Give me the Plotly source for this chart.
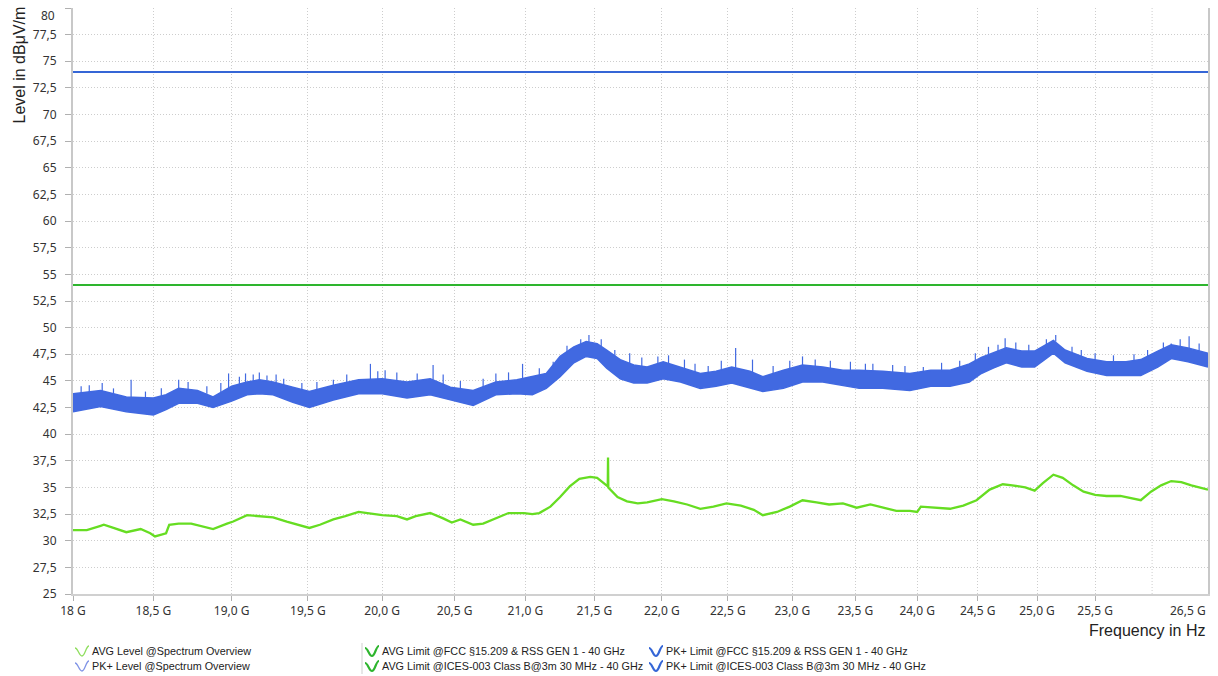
import math
import plotly.graph_objects as go

# ---------------- data ----------------
avg_freq = [18.00, 18.085, 18.17, 18.19, 18.25, 18.33, 18.42, 18.48, 18.51, 18.58, 18.60, 18.66,
            18.74, 18.80, 18.88, 18.97, 19.01, 19.10, 19.18, 19.27, 19.36, 19.45, 19.51, 19.58,
            19.67, 19.75, 19.84, 19.90, 20.00, 20.10, 20.17, 20.23, 20.33, 20.42, 20.48, 20.54,
            20.63, 20.70, 20.79, 20.88, 20.99, 21.05, 21.10, 21.18, 21.25, 21.32, 21.39, 21.47,
            21.52, 21.59, 21.598, 21.600, 21.602, 21.67, 21.74, 21.82, 21.89, 22.00, 22.09, 22.19,
            22.29, 22.39, 22.49, 22.60, 22.70, 22.77, 22.88, 22.98, 23.08, 23.19, 23.29, 23.40,
            23.51, 23.62, 23.72, 23.83, 23.94, 24.00, 24.03, 24.16, 24.27, 24.38, 24.49, 24.60,
            24.71, 24.79, 24.90, 24.98, 25.05, 25.14, 25.22, 25.31, 25.40, 25.50, 25.60, 25.72,
            25.82, 25.90, 25.99, 26.08, 26.17, 26.26, 26.35, 26.50]
avg_level = [31.0, 31.0, 31.4, 31.5, 31.2, 30.8, 31.1, 30.7, 30.4, 30.7, 31.5, 31.6,
             31.6, 31.4, 31.1, 31.6, 31.8, 32.4, 32.3, 32.2, 31.8, 31.4, 31.2, 31.5,
             32.0, 32.3, 32.7, 32.6, 32.4, 32.3, 32.0, 32.3, 32.6, 32.1, 31.7, 32.0,
             31.5, 31.6, 32.1, 32.6, 32.6, 32.5, 32.6, 33.2, 34.1, 35.1, 35.8, 36.0,
             35.9, 35.1, 35.1, 37.8, 35.0, 34.1, 33.7, 33.5, 33.6, 33.9, 33.7, 33.4,
             33.0, 33.2, 33.5, 33.3, 32.9, 32.4, 32.7, 33.2, 33.8, 33.6, 33.4, 33.5,
             33.1, 33.4, 33.1, 32.8, 32.8, 32.7, 33.2, 33.1, 33.0, 33.3, 33.8, 34.8,
             35.3, 35.2, 35.0, 34.7, 35.4, 36.2, 35.9, 35.2, 34.6, 34.3, 34.2, 34.2,
             34.0, 33.8, 34.6, 35.2, 35.6, 35.5, 35.2, 34.8]

pk_freq = [18.00, 18.17, 18.33, 18.50, 18.58, 18.66, 18.78, 18.88, 19.00, 19.10, 19.18, 19.27,
           19.40, 19.51, 19.67, 19.84, 20.00, 20.17, 20.33, 20.47, 20.63, 20.79, 20.94, 21.05,
           21.15, 21.25, 21.35, 21.44, 21.52, 21.59, 21.69, 21.79, 21.89, 22.01, 22.14, 22.29,
           22.41, 22.53, 22.67, 22.77, 22.93, 23.08, 23.24, 23.40, 23.53, 23.72, 23.94, 24.11,
           24.27, 24.43, 24.53, 24.63, 24.74, 24.87, 24.98, 25.14, 25.24, 25.43, 25.60, 25.77,
           25.90, 26.05, 26.17, 26.32, 26.50]
pk_low = [42.1, 42.6, 42.1, 41.8, 42.3, 42.9, 42.9, 42.5, 43.1, 43.7, 43.8, 43.7,
          43.0, 42.5, 43.2, 43.8, 43.8, 43.4, 43.7, 43.2, 42.7, 43.7, 43.8, 43.7,
          44.3, 45.4, 46.7, 47.3, 47.1, 46.2, 45.2, 44.8, 44.8, 45.2, 44.9, 44.3,
          44.5, 44.8, 44.3, 44.0, 44.3, 44.9, 44.9, 44.6, 44.3, 44.3, 44.1, 44.5,
          44.5, 44.9, 45.7, 46.2, 46.7, 46.3, 46.3, 47.6, 46.7, 45.9, 45.5, 45.5,
          45.5, 46.3, 47.1, 46.8, 46.3]
pk_high = [43.8, 44.1, 43.5, 43.4, 43.7, 44.3, 44.1, 43.5, 44.5, 44.9, 45.1, 44.9,
           44.4, 44.0, 44.6, 45.1, 45.2, 44.9, 45.2, 44.4, 44.1, 44.9, 45.1, 45.4,
           45.7, 47.3, 48.2, 48.7, 48.5, 47.9, 47.0, 46.5, 46.3, 46.8, 46.3, 45.7,
           45.9, 46.3, 45.9, 45.4, 46.0, 46.5, 46.3, 46.0, 46.0, 45.9, 45.7, 46.0,
           46.0, 46.6, 47.2, 47.6, 48.1, 47.8, 47.8, 48.8, 47.9, 47.1, 46.8, 46.8,
           47.0, 47.8, 48.4, 48.1, 47.6]

spike_freq = [18.05, 18.10, 18.18, 18.25, 18.36, 18.45, 18.55, 18.66, 18.72, 18.84, 18.93, 18.98,
              19.05, 19.09, 19.14, 19.18, 19.23, 19.29, 19.34, 19.46, 19.56, 19.67, 19.76, 19.92,
              19.97, 20.02, 20.10, 20.24, 20.35, 20.42, 20.54, 20.70, 20.79, 20.88, 20.98, 21.10,
              21.20, 21.30, 21.40, 21.46, 21.55, 21.65, 21.76, 21.85, 21.97, 22.05, 22.17, 22.25,
              22.35, 22.45, 22.56, 22.69, 22.85, 22.98, 23.08, 23.18, 23.30, 23.46, 23.58, 23.64,
              23.80, 23.90, 24.05, 24.20, 24.35, 24.48, 24.59, 24.67, 24.73, 24.82, 24.93, 25.08,
              25.16, 25.30, 25.38, 25.50, 25.66, 25.84, 25.96, 26.10, 26.17, 26.25, 26.33, 26.42]
spike_base = [43.6, 43.8, 44.0, 43.6, 43.4, 43.3, 43.4, 44.2, 44.1, 43.8, 43.9, 44.3,
              44.6, 44.8, 44.9, 45.0, 44.9, 44.8, 44.5, 44.0, 44.1, 44.5, 44.8, 45.0,
              45.1, 45.1, 44.9, 44.9, 45.1, 44.6, 44.3, 44.3, 44.8, 45.0, 45.1, 45.5,
              46.2, 47.5, 48.3, 48.6, 48.2, 47.2, 46.5, 46.3, 46.6, 46.6, 46.2, 45.8,
              45.7, 46.0, 46.2, 45.8, 45.6, 46.1, 46.4, 46.3, 46.1, 45.9, 45.9, 45.9,
              45.8, 45.7, 45.8, 45.9, 46.2, 46.8, 47.3, 47.6, 48.0, 47.9, 47.7, 48.3,
              48.7, 47.5, 47.2, 46.9, 46.7, 46.8, 47.1, 47.9, 48.3, 48.2, 48.0, 47.8]
spike_top = [44.5, 44.6, 44.8, 44.3, 45.1, 44.0, 44.3, 45.1, 44.9, 44.5, 44.8, 45.7,
             45.4, 45.7, 45.6, 45.8, 45.5, 45.6, 45.2, 44.8, 44.9, 45.1, 45.6, 46.6,
             45.9, 46.0, 45.8, 45.7, 46.5, 45.6, 45.0, 45.2, 45.7, 45.8, 46.6, 46.2,
             46.8, 48.3, 48.9, 49.3, 48.9, 47.9, 47.6, 47.2, 47.3, 47.4, 47.0, 46.6,
             46.4, 46.9, 48.1, 47.0, 46.4, 46.9, 47.3, 47.0, 46.9, 46.8, 46.6, 46.6,
             46.5, 46.4, 46.3, 46.7, 46.9, 47.6, 48.2, 48.4, 49.0, 48.6, 48.4, 48.9,
             49.3, 48.2, 47.9, 47.6, 47.4, 47.5, 47.9, 48.6, 48.5, 48.9, 49.2, 48.5]

f_start, f_stop = 18.0, 26.5
pk_limit = 74.0
avg_limit = 54.0

x_tickvals = [18.0, 18.5, 19.0, 19.5, 20.0, 20.5, 21.0, 21.5, 22.0, 22.5, 23.0, 23.5, 24.0, 24.5, 25.0, 25.5]
x_ticktext = ["18 G", "18,5 G", "19,0 G", "19,5 G", "20,0 G", "20,5 G", "21,0 G", "21,5 G", "22,0 G",
              "22,5 G", "23,0 G", "23,5 G", "24,0 G", "24,5 G", "25,0 G", "25,5 G"]
x_extra_grid = 26.0
x_last_label = "26,5 G"
y_tickvals = [25, 27.5, 30, 32.5, 35, 37.5, 40, 42.5, 45, 47.5, 50, 52.5, 55, 57.5, 60, 62.5, 65,
              67.5, 70, 72.5, 75, 77.5, 80]
y_ticktext = ["25", "27,5", "30", "32,5", "35", "37,5", "40", "42,5", "45", "47,5", "50", "52,5", "55",
              "57,5", "60", "62,5", "65", "67,5", "70", "72,5", "75", "77,5", ""]
y_top_label = "80"

legend_items = [
    ("AVG Level @Spectrum Overview", "#8fde5e", 1.3),
    ("PK+ Level @Spectrum Overview", "#7f93e6", 1.3),
    ("AVG Limit @FCC §15.209 & RSS GEN 1 - 40 GHz", "#2eb52e", 2.2),
    ("AVG Limit @ICES-003 Class B@3m 30 MHz - 40 GHz", "#2eb52e", 2.2),
    ("PK+ Limit @FCC §15.209 & RSS GEN 1 - 40 GHz", "#3566d6", 2.2),
    ("PK+ Limit @ICES-003 Class B@3m 30 MHz - 40 GHz", "#3566d6", 2.2),
]

# ---------------- figure ----------------
W, H = 1218, 676
ML, MR, MT, MB = 73, 10, 8, 82
PW, PH = W - ML - MR, H - MT - MB

BLUE = "#4169e1"
GREEN = "#66dd22"
GRID = "#cdcdcd"

fig = go.Figure()

fig.add_trace(go.Scatter(x=[x_extra_grid, x_extra_grid], y=[y_tickvals[0], y_tickvals[-1]],
                         mode="lines", line=dict(color=GRID, width=1, dash="1px,2px"),
                         hoverinfo="skip", showlegend=False))

fig.add_trace(go.Scatter(x=pk_freq, y=pk_low, mode="lines", line=dict(color=BLUE, width=1.5),
                         showlegend=False, name="PK+ Level"))
fig.add_trace(go.Scatter(x=pk_freq, y=pk_high, mode="lines", line=dict(color=BLUE, width=1.5),
                         fill="tonexty", fillcolor=BLUE, showlegend=False, name="PK+ Level"))

sx, sy = [], []
for f, b, t in zip(spike_freq, spike_base, spike_top):
    sx += [f, f, None]
    sy += [b, t, None]
fig.add_trace(go.Scatter(x=sx, y=sy, mode="lines", line=dict(color=BLUE, width=1.2),
                         showlegend=False, hoverinfo="skip"))

fig.add_trace(go.Scatter(x=avg_freq, y=avg_level, mode="lines", line=dict(color=GREEN, width=2.3),
                         showlegend=False, name="AVG Level"))

for lvl, col in [(pk_limit, "#3566d6"), (pk_limit, "#3566d6"), (avg_limit, "#2eb52e"), (avg_limit, "#2eb52e")]:
    fig.add_trace(go.Scatter(x=[f_start, f_stop], y=[lvl, lvl], mode="lines",
                             line=dict(color=col, width=2), showlegend=False))


def pxx(px):
    return (px - ML) / PW


def pxy(py):
    return (H - MB - py) / PH


shapes = []
annotations = []

# legend (custom, 3 columns x 2 rows)
col_x = [75, 365, 649]
row_y = [651, 666]
for i, (label, col, lw) in enumerate(legend_items):
    c, r = divmod(i, 2)
    x0, yc = col_x[c], row_y[r]
    pts = [(x0, yc - 3), (x0 + 3, yc - 3), (x0 + 4, yc + 5), (x0 + 7, yc + 5),
           (x0 + 10, yc + 5), (x0 + 11, yc - 5), (x0 + 14, yc - 5)]
    P = [(pxx(a), pxy(b)) for a, b in pts]
    path = "M {:.5f},{:.5f} C {:.5f},{:.5f} {:.5f},{:.5f} {:.5f},{:.5f} C {:.5f},{:.5f} {:.5f},{:.5f} {:.5f},{:.5f}".format(
        *[v for p in P for v in p])
    shapes.append(dict(type="path", xref="paper", yref="paper", path=path,
                       line=dict(color=col, width=lw)))
    annotations.append(dict(xref="paper", yref="paper", x=pxx(x0 + 15), y=pxy(yc),
                            xanchor="left", yanchor="middle", showarrow=False, text=label,
                            font=dict(family="Liberation Sans, Arial", size=10.8, color="#222")))

shapes.append(dict(type="line", xref="paper", yref="paper", x0=pxx(362), x1=pxx(362),
                   y0=pxy(643), y1=pxy(674), line=dict(color="#cfcfcf", width=1)))

annotations.append(dict(xref="paper", yref="paper", x=1.0, y=0, yshift=-16, xanchor="right",
                        yanchor="middle", showarrow=False, text=x_last_label,
                        font=dict(family="Noto Sans", size=12, color="#333")))
annotations.append(dict(xref="paper", yref="paper", x=pxx(57), y=pxy(15.5), xanchor="right",
                        yanchor="middle", showarrow=False, text=y_top_label,
                        font=dict(family="Noto Sans", size=12, color="#333")))
annotations.append(dict(xref="paper", yref="paper", x=1.0, y=pxy(630), xanchor="right",
                        yanchor="middle", showarrow=False, text="Frequency in Hz",
                        font=dict(family="Liberation Sans, Arial", size=16, color="#222")))
annotations.append(dict(xref="paper", yref="paper", x=pxx(19), y=pxy(4), xanchor="center",
                        yanchor="top", showarrow=False, text="Level in dBμV/m", textangle=-90,
                        font=dict(family="Liberation Sans, Arial", size=16, color="#222")))

fig.update_layout(
    width=W, height=H,
    margin=dict(l=ML, r=MR, t=MT, b=MB),
    paper_bgcolor="white", plot_bgcolor="white",
    shapes=shapes, annotations=annotations,
    showlegend=False,
    xaxis=dict(type="log", range=[math.log10(f_start), math.log10(f_stop)],
               tickmode="array", tickvals=x_tickvals, ticktext=x_ticktext,
               showgrid=True, gridcolor=GRID, griddash="1px,2px", gridwidth=1,
               ticks="outside", ticklen=5, tickcolor="#b0b0b0", tickwidth=1,
               showline=True, linecolor="#d0d0d0", linewidth=2,
               tickfont=dict(family="Noto Sans", size=12, color="#333"),
               zeroline=False),
    yaxis=dict(range=[25, 80.001], tickmode="array", tickvals=y_tickvals, ticktext=y_ticktext,
               showgrid=True, gridcolor=GRID, griddash="1px,2px", gridwidth=1,
               ticks="outside", ticklen=6, tickcolor="#b0b0b0", tickwidth=1,
               showline=True, linecolor="#c8c8c8", linewidth=2, mirror=True,
               ticklabelstandoff=6,
               tickfont=dict(family="Noto Sans", size=12, color="#333"),
               zeroline=False),
)

fig.write_html("out.html", config={"displayModeBar": False},
               post_script="document.body.style.margin='0';document.body.style.padding='0';")
